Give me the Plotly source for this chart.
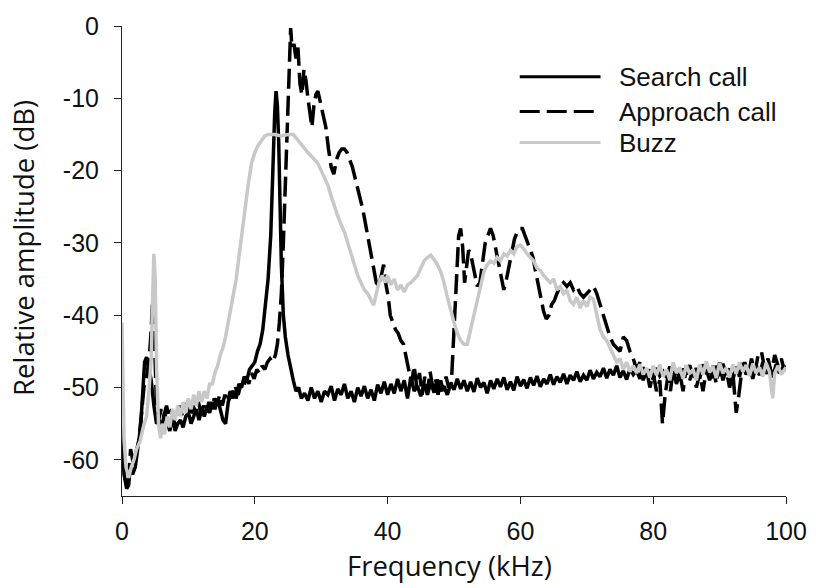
import plotly.graph_objects as go

# ---------------- data ----------------
search_x = [0.0, 0.3, 0.7, 1.0, 1.3, 1.6, 2.0, 2.4, 2.8, 3.1, 3.4, 3.7, 4.0, 4.4, 4.8, 5.2, 5.6, 6.0,
            6.4, 6.8, 7.2, 7.6, 8.0, 8.4, 8.8, 9.2, 9.6, 10.0, 10.4, 10.8, 11.2, 11.6, 12.0, 12.4,
            12.8, 13.2, 13.6, 14.0, 14.4, 14.8, 15.2, 15.6, 16.0, 16.4, 16.8, 17.2, 17.6, 18.0,
            18.4, 18.8, 19.2, 19.6, 20.0, 20.4, 20.8, 21.2, 21.6, 22.0, 22.4, 22.7, 23.0, 23.2,
            23.4, 23.6, 23.8, 24.0, 24.3, 24.6, 25.0, 25.4, 25.8, 26.2, 26.6, 27.0, 27.5, 28.0,
            28.5, 29.0, 29.5, 30.0, 30.5, 31.0, 31.5, 32.0, 32.5, 33.0, 33.5, 34.0, 34.5, 35.0,
            35.5, 36.0, 36.5, 37.0, 37.5, 38.0, 38.5, 39.0, 39.5, 40.0, 40.5, 41.0, 41.5, 42.0,
            42.5, 43.0, 43.5, 44.0, 44.5, 45.0, 45.5, 46.0, 46.5, 47.0, 47.5, 48.0, 48.5, 49.0,
            49.5, 50.0, 50.5, 51.0, 51.5, 52.0, 52.5, 53.0, 53.5, 54.0, 54.5, 55.0, 55.5, 56.0,
            56.5, 57.0, 57.5, 58.0, 58.5, 59.0, 59.5, 60.0, 60.5, 61.0, 61.5, 62.0, 62.5, 63.0,
            63.5, 64.0, 64.5, 65.0, 65.5, 66.0, 66.5, 67.0, 67.5, 68.0, 68.5, 69.0, 69.5, 70.0,
            70.5, 71.0, 71.5, 72.0, 72.5, 73.0, 73.5, 74.0, 74.5, 75.0, 75.5, 76.0, 76.5, 77.0,
            77.5, 78.0, 78.5, 79.0, 79.5, 80.0, 80.5, 81.0, 81.5, 82.0, 82.5, 83.0, 83.5, 84.0,
            84.5, 85.0, 85.5, 86.0, 86.5, 87.0, 87.5, 88.0, 88.5, 89.0, 89.5, 90.0, 90.5, 91.0,
            91.5, 92.0, 92.5, 93.0, 93.5, 94.0, 94.5, 95.0, 95.5, 96.0, 96.5, 97.0, 97.5, 98.0,
            98.5, 99.0, 99.5, 100.0]
search_y = [-57, -62, -64, -63.5, -60.5, -62, -61, -58, -55.5, -51, -46.5, -45.8, -47, -49, -52.5, -55,
            -54.5, -55.5, -53.5, -55, -56, -54, -56, -55, -54.5, -55.5, -54, -53.5, -55, -54, -53,
            -54.5, -53, -54, -52.5, -53.5, -52, -53, -51.5, -53, -54.5, -55, -52, -51, -50.5, -51.5,
            -49.5, -50, -48.5, -49, -47.5, -47, -46.5, -45, -44, -42, -39, -35, -29, -20, -12, -9,
            -11, -16, -25, -33, -40, -43, -45.5, -47.5, -49, -50.5, -50, -51.5, -50.8, -51.8, -50,
            -51.5, -50.5, -52, -50.5, -51, -49.8, -51.8, -50.2, -51, -49.5, -51.5, -50.5, -52, -50,
            -51.2, -49.8, -51.5, -50.3, -51.8, -49.6, -50.8, -49.2, -51, -49.5, -50.8, -48.8, -50.5,
            -49, -51.5, -48.5, -50.5, -49.8, -51.2, -49.5, -51, -49.3, -50.7, -48.9, -50.5, -49.8,
            -51, -49.5, -50.3, -48.8, -50.2, -49, -50.5, -49.2, -50.6, -48.7, -50, -49.3, -50.8, -49,
            -50.2, -48.8, -49.9, -48.6, -50.3, -49.2, -50.4, -48.5, -49.8, -48.9, -50.1, -48.6,
            -49.7, -48.4, -49.9, -48.8, -49.5, -48.2, -49.6, -48.5, -49.3, -48.1, -49.5, -48.3, -49,
            -47.8, -49.2, -48.3, -49, -47.6, -48.8, -47.9, -48.5, -47.3, -48.7, -47.5, -48.3, -47,
            -48.6, -47.7, -48.9, -47.4, -48.2, -47.6, -48.8, -47.2, -48.5, -47.5, -48.9, -47.3,
            -48.4, -47.8, -48.6, -47.1, -48.3, -47.5, -49, -47.4, -48.2, -46.9, -48.5, -47.3, -48.8,
            -46.8, -48.1, -47.5, -48.7, -47, -48.4, -46.7, -48.2, -47.4, -48.9, -47.1, -48.5, -46.6,
            -48.2, -47.3, -48.8, -46.9, -48.3, -46.5, -48.1, -47.2, -48.6, -46.8, -48, -47.3, -47.6]

approach_x = [0.0, 0.3, 0.6, 1.0, 1.3, 1.7, 2.1, 2.5, 2.9, 3.3, 3.7, 4.1, 4.4, 4.6, 4.8, 5.0, 5.2, 5.5,
              5.9, 6.3, 6.7, 7.1, 7.5, 7.9, 8.3, 8.7, 9.1, 9.5, 9.9, 10.3, 10.7, 11.1, 11.5, 11.9,
              12.3, 12.7, 13.1, 13.5, 13.9, 14.3, 14.7, 15.1, 15.5, 15.9, 16.3, 16.7, 17.1, 17.5,
              17.9, 18.3, 18.7, 19.1, 19.5, 19.9, 20.3, 20.7, 21.1, 21.5, 21.9, 22.3, 22.7, 23.1,
              23.4, 23.7, 24.0, 24.3, 24.6, 24.9, 25.2, 25.4, 25.6, 25.9, 26.2, 26.5, 26.8, 27.1,
              27.4, 27.7, 28.0, 28.3, 28.6, 28.9, 29.2, 29.5, 29.9, 30.3, 30.7, 31.1, 31.5, 31.9,
              32.3, 32.7, 33.1, 33.5, 33.9, 34.3, 34.7, 35.1, 35.5, 35.9, 36.3, 36.7, 37.1, 37.5,
              37.9, 38.3, 38.7, 39.1, 39.4, 39.7, 40.1, 40.4, 40.8, 41.2, 41.6, 42.0, 42.4, 42.8,
              43.2, 43.6, 44.0, 44.4, 44.8, 45.2, 45.6, 46.0, 46.4, 46.8, 47.2, 47.6, 48.0, 48.4,
              48.8, 49.2, 49.6, 49.9, 50.1, 50.4, 50.7, 51.0, 51.3, 51.6, 51.9, 52.2, 52.5, 52.8,
              53.1, 53.5, 53.9, 54.3, 54.7, 55.1, 55.5, 55.9, 56.3, 56.7, 57.1, 57.5, 57.9, 58.3,
              58.7, 59.1, 59.5, 59.9, 60.3, 60.7, 61.1, 61.5, 61.9, 62.3, 62.7, 63.1, 63.5, 63.9,
              64.3, 64.7, 65.1, 65.5, 66.0, 66.5, 67.0, 67.5, 68.0, 68.5, 69.0, 69.5, 70.0, 70.5,
              71.0, 71.5, 72.0, 72.5, 73.0, 73.5, 74.0, 74.5, 75.0, 75.5, 76.0, 76.5, 77.0, 77.5,
              78.0, 78.5, 79.0, 79.5, 80.0, 80.5, 81.0, 81.4, 81.8, 82.2, 82.6, 83.0, 83.5, 84.0,
              84.5, 85.0, 85.5, 86.0, 86.5, 87.0, 87.5, 88.0, 88.5, 89.0, 89.5, 90.0, 90.5, 91.0,
              91.5, 92.0, 92.5, 92.9, 93.3, 93.8, 94.3, 94.8, 95.3, 95.8, 96.3, 96.8, 97.3, 97.8,
              98.3, 98.8, 99.3, 99.7, 100.0]
approach_y = [-55.5, -60, -63, -62.5, -58.5, -60.5, -59, -57.5, -54, -50, -48.5, -46, -42, -38, -40,
              -47, -53, -54.5, -53, -54, -52.5, -54, -53, -55, -53.5, -52.5, -54, -53, -52, -54,
              -52.5, -53.5, -52, -53.5, -52.5, -53.5, -52, -53, -51.5, -52.5, -51, -52.5, -51, -52,
              -50.5, -51.5, -50, -51, -49.5, -50, -48.5, -49.5, -48, -48.8, -47.5, -48, -47, -47.5,
              -46.5, -46, -46.5, -45.5, -44, -41, -37, -30, -22, -14, -5, -0.3, -3, -2.5, -4.5, -3,
              -8, -9.5, -6, -7.5, -10, -12.5, -14, -11, -9.5, -9, -10.5, -12, -14, -17, -19.5, -20.5,
              -18.5, -17.5, -17, -17, -17.5, -18.5, -19.5, -21, -22.5, -24, -25.5, -27.5, -29.5,
              -31.5, -33.5, -35.5, -36, -34, -33, -35.5, -37.5, -40, -41, -42, -42.5, -43.5, -44,
              -46, -47.5, -49.5, -47, -50, -48, -51, -48.5, -50.5, -47.8, -50, -48.7, -51, -49,
              -50.5, -48.5, -50, -49.5, -44, -38, -33, -29, -28, -30.5, -35.5, -33, -31, -31.5, -33,
              -34.5, -36, -35.5, -33, -30, -29, -28, -29, -31, -32.5, -35, -36.5, -35, -33, -31,
              -29.5, -28.5, -28, -28, -29, -30, -31, -32, -34, -36, -38, -39.5, -40.5, -40, -38.5,
              -38, -37, -36, -35.5, -36, -35.5, -36.5, -36, -37, -37.5, -37, -36.5, -36, -37, -38.5,
              -40, -41.5, -43, -44, -44.5, -45, -43, -43.5, -45, -46, -47.5, -46.5, -49, -47.5, -50,
              -48, -50.5, -49, -55, -51, -48.5, -50.5, -47.5, -49.5, -48, -50.5, -47, -49, -47.5,
              -50, -48, -50.5, -47.5, -49, -47, -49.5, -46.5, -49, -47.5, -50, -48, -53.5, -51, -48,
              -46.5, -48.5, -46, -48, -45.5, -45, -47.5, -46, -48, -45.5, -47, -46, -47.5, -47]

buzz_x = [0.0, 0.15, 0.3, 0.6, 1.0, 1.4, 1.8, 2.2, 2.7, 3.2, 3.7, 4.1, 4.4, 4.6, 4.8, 5.0, 5.2, 5.5,
          5.8, 6.1, 6.4, 6.8, 7.2, 7.6, 8.0, 8.4, 8.8, 9.2, 9.6, 10.0, 10.4, 10.8, 11.2, 11.6, 12.0,
          12.4, 12.8, 13.2, 13.6, 14.0, 14.4, 14.8, 15.2, 15.6, 16.0, 16.4, 16.8, 17.2, 17.6, 18.0,
          18.5, 19.0, 19.5, 20.0, 20.5, 21.0, 21.5, 22.0, 23.0, 24.0, 25.0, 25.8, 26.5, 27.0, 27.5,
          28.0, 28.5, 29.0, 29.5, 30.0, 30.5, 31.0, 31.5, 32.0, 32.5, 33.0, 33.5, 34.0, 34.5, 35.0,
          35.5, 36.0, 36.5, 37.0, 37.5, 37.9, 38.3, 38.7, 39.2, 39.6, 40.0, 40.5, 41.0, 41.5, 42.0,
          42.5, 43.0, 43.5, 44.0, 44.5, 45.0, 45.5, 46.0, 46.5, 47.0, 47.5, 48.0, 48.5, 49.0, 49.5,
          50.0, 50.5, 51.0, 51.5, 52.0, 52.5, 53.0, 53.5, 54.0, 54.5, 55.0, 55.5, 56.0, 56.5, 57.0,
          57.5, 58.0, 58.5, 59.0, 59.5, 60.0, 60.5, 61.0, 61.5, 62.0, 62.5, 63.0, 63.5, 64.0, 64.5,
          65.0, 65.5, 66.0, 66.5, 67.0, 67.5, 68.0, 68.5, 69.0, 69.5, 70.0, 70.5, 71.0, 71.5, 72.0,
          72.5, 73.0, 73.5, 74.0, 74.5, 75.0, 75.5, 76.0, 76.5, 77.0, 77.5, 78.0, 78.5, 79.0, 79.5,
          80.0, 80.5, 81.0, 81.5, 82.0, 82.5, 83.0, 83.5, 84.0, 84.5, 85.0, 85.5, 86.0, 86.5, 87.0,
          87.5, 88.0, 88.5, 89.0, 89.5, 90.0, 90.5, 91.0, 91.5, 92.0, 92.5, 93.0, 93.5, 94.0, 94.5,
          95.0, 95.5, 96.0, 96.5, 97.0, 97.5, 98.0, 98.3, 98.8, 99.3, 100.0]
buzz_y = [-41, -50, -57, -61, -62.5, -61, -60, -58.5, -57.5, -55.5, -54, -50, -46, -38, -31.5, -35,
          -47, -55, -57, -55, -56.5, -54, -55.5, -53, -54.5, -52.5, -54, -52, -53.5, -51.5, -53,
          -51, -52.5, -50.5, -52, -50.5, -51.5, -49.5, -49.5, -48, -47, -45.5, -44.5, -43, -41,
          -39.5, -37.5, -35, -32, -29, -25.5, -22, -19, -17.5, -16.5, -15.8, -15.2, -15, -15,
          -15.2, -15, -15, -15.8, -16.5, -17, -17.5, -18, -18.5, -19, -20, -21, -22, -23.5, -25,
          -26.3, -27.5, -28.5, -30, -31.5, -33, -34.5, -35.5, -36.5, -37, -38, -38.6, -37, -35.5,
          -34.5, -35.5, -34.5, -35.8, -35, -36.5, -35.8, -36.8, -35.8, -35.5, -35, -34.5, -33.5,
          -32.5, -32, -31.7, -32.3, -33, -34, -35.5, -37.5, -39.5, -41, -42.5, -43.5, -44, -44,
          -42, -40, -37.5, -35.5, -34, -33, -32.5, -32.8, -32, -32.5, -31.5, -31.8, -31, -31.5,
          -30.5, -30.3, -30.8, -31.5, -32, -32.5, -33.5, -33.8, -34.5, -35, -35.5, -35, -36.5, -36,
          -37, -36.5, -38, -38.5, -37.5, -39, -38, -38.8, -37.5, -37.8, -40, -42, -43, -43.5,
          -44.5, -45.5, -46.5, -46, -47.5, -46.5, -47.8, -47, -48, -46.8, -48.2, -47.3, -48.6, -47,
          -48.3, -46.8, -48.5, -47.5, -49, -46.5, -48, -47.2, -48.8, -46.9, -48.1, -47.5, -49,
          -46.8, -48.2, -46.4, -47.9, -47.1, -48.7, -46.6, -48, -47.3, -48.6, -46.8, -48.1, -46.5,
          -47.8, -46.9, -48.4, -46.7, -48, -47.2, -48.5, -46.6, -47.8, -51.5, -48, -47, -48.2, -47.2]

series_names = ["Search call", "Approach call", "Buzz"]
x_ticks = [0, 20, 40, 60, 80, 100]
x_tick_labels = ["0", "20", "40", "60", "80", "100"]
y_ticks = [-60, -50, -40, -30, -20, -10, 0]
y_tick_labels = ["-60", "-50", "-40", "-30", "-20", "-10", "0"]
x_title = "Frequency (kHz)"
y_title = "Relative amplitude (dB)"

# ---------------- styles ----------------
BLACK = "#000000"
GREY = "#c8c8c8"
DASH = "20px,7px"
styles = [
    dict(color=BLACK, width=3.5, dash="solid"),
    dict(color=BLACK, width=3.5, dash=DASH),
    dict(color=GREY, width=3.5, dash="solid"),
]

fig = go.Figure()
for name, xs, ys, st in zip(series_names,
                            [search_x, approach_x, buzz_x],
                            [search_y, approach_y, buzz_y],
                            styles):
    fig.add_trace(go.Scatter(x=xs, y=ys, mode="lines", name=name,
                             line=st, showlegend=False))

axis_common = dict(showline=True, linecolor="#222222", linewidth=1, showgrid=False,
                   zeroline=False, ticks="outside", ticklen=7, tickcolor="#222222",
                   tickfont=dict(family="Liberation Sans, Arial, sans-serif", size=25,
                                 color="#111111"))
fig.update_xaxes(range=[0, 100], tickvals=x_ticks, ticktext=x_tick_labels,
                 ticklabelstandoff=6, **axis_common)
fig.update_yaxes(range=[-65, 0], tickvals=y_ticks, ticktext=y_tick_labels,
                 ticklabelstandoff=10, **axis_common)

title_font = dict(family="Open Sans, Noto Sans, sans-serif", size=27.5, color="#111111")
annotations = [
    dict(text=x_title, xref="paper", yref="paper", x=0.4926, y=-0.1918,
         xanchor="center", yanchor="bottom", showarrow=False, font=title_font),
    dict(text=y_title, xref="paper", yref="paper", x=-0.1486, y=0.5286,
         xanchor="center", yanchor="middle", textangle=-90, showarrow=False, font=title_font),
]

# manual legend (long line samples as in the reference)
legend_rows_y = [0.892, 0.818, 0.752]
shapes = []
for name, st, ly in zip(series_names, styles, legend_rows_y):
    shapes.append(dict(type="line", xref="paper", yref="paper", x0=0.599, x1=0.7207,
                       y0=ly, y1=ly, line=dict(color=st["color"], width=st["width"] - 0.5,
                                               dash=st["dash"])))
    annotations.append(dict(text=name, xref="paper", yref="paper", x=0.745, y=ly,
                            xanchor="left", yanchor="middle", showarrow=False,
                            font=dict(family="Liberation Sans, Arial, sans-serif", size=26,
                                      color="#111111")))

fig.update_layout(
    width=819, height=588,
    margin=dict(l=122, r=24, t=24, b=92),
    paper_bgcolor="white", plot_bgcolor="white",
    annotations=annotations, shapes=shapes,
    hovermode=False,
)

# remove the browser's default 8px body margin so the figure fills the window exactly
fig.write_html("out.html",
               config={"displayModeBar": False, "staticPlot": True},
               post_script="document.body.style.margin='0px';"
                           "document.body.style.overflow='hidden';")
